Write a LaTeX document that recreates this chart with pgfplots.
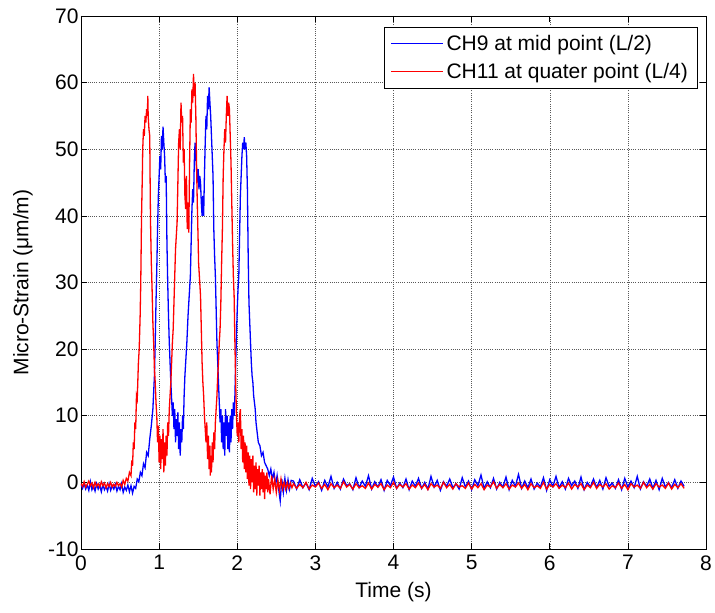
\documentclass[border=0pt]{standalone}
\usepackage{fontspec}
\setmainfont{Liberation Sans}
\usepackage{pgfplots}
\pgfplotsset{compat=1.18}
\definecolor{mblue}{rgb}{0,0,1}
\definecolor{mred}{rgb}{1,0,0}
\newcommand{\lbl}{\fontsize{21}{25}\selectfont}
\begin{document}
\begin{tikzpicture}
\path[use as bounding box] (-81pt,-64pt) rectangle (634pt,549pt);
\begin{axis}[
  at={(0,0)}, anchor=south west,
  scale only axis, width=625pt, height=533pt,
  xmin=0, xmax=8, ymin=-10, ymax=70,
  xtick={0,1,2,3,4,5,6,7,8}, xticklabels={0,1,2,3,4,5,6,7,8},
  ytick={-10,0,10,20,30,40,50,60,70}, yticklabels={-10,0,10,20,30,40,50,60,70},
  tick align=inside, xtick pos=both, ytick pos=both,
  major tick length=6pt,
  tick style={black, line width=0.6pt},
  axis line style={black, line width=0.8pt},
  grid=major,
  major grid style={black!65, line width=0.5pt, dash pattern=on 1pt off 1.2pt},
  ticklabel style={font=\lbl},
  xticklabel style={yshift=-3pt},
  yticklabel style={xshift=1pt},
  xlabel={Time (s)}, ylabel={Micro-Strain (μm/m)},
  label style={font=\lbl},
  xlabel style={at={(axis description cs:0.5,-0.081)}, anchor=center},
  ylabel style={at={(axis description cs:-0.0928,0.5)}, anchor=center},
  legend style={at={(0.9856,0.979)}, anchor=north east,
    font=\lbl, inner xsep=6pt, inner ysep=6pt, row sep=7pt,
    nodes={inner ysep=2pt, inner xsep=3pt}},
  legend cell align=left,
  every axis plot/.append style={line width=1.3pt},
]
\addplot[color=mblue, legend image code/.code={\draw[draw=mblue, color=mblue, line width=1pt] (0pt,0pt) -- (52pt,0pt);}] table {
t y
0.00 -0.3
0.02 -0.9
0.04 -0.2
0.06 -1.0
0.08 -0.4
0.10 -1.2
0.12 0.1
0.14 -1.1
0.16 -0.5
0.18 -1.3
0.20 -0.2
0.22 -1.0
0.24 -0.4
0.26 -1.4
0.28 -0.3
0.30 -1.1
0.32 -0.6
0.34 -1.3
0.36 -0.2
0.38 -1.2
0.40 -0.5
0.42 -1.0
0.44 -0.3
0.46 -1.3
0.48 -0.6
0.50 -1.1
0.52 -0.2
0.54 -1.5
0.56 -0.7
0.58 -1.2
0.60 -0.4
0.62 -1.4
0.64 -0.5
0.66 -1.6
0.68 -0.6
0.70 -0.9
0.72 0.5
0.74 0.1
0.76 1.5
0.78 1.0
0.80 2.8
0.82 2.2
0.84 4.5
0.86 4.0
0.88 6.5
0.90 8.5
0.92 11
0.94 16
0.95 21
0.96 27
0.97 32
0.98 38
0.99 43
1.00 46
1.01 49
1.02 47
1.03 52
1.04 50
1.05 53.4
1.06 51
1.07 49
1.08 45
1.09 46
1.10 36
1.11 30
1.12 25
1.13 21
1.14 18
1.15 15
1.16 12.5
1.17 10
1.18 12
1.19 8
1.20 11
1.21 6
1.22 9.5
1.23 7
1.24 10.5
1.25 5
1.26 9
1.27 4
1.28 8
1.29 6
1.30 10
1.31 8
1.32 13
1.33 16
1.34 18
1.355 21
1.37 25
1.385 28
1.40 31
1.41 36
1.42 41
1.43 44
1.44 42
1.45 48
1.46 51
1.47 49
1.48 47
1.49 45
1.50 47
1.51 44
1.52 46
1.53 45
1.54 42
1.55 40
1.56 43
1.57 40
1.58 46
1.59 51
1.60 55
1.61 53
1.62 58
1.63 56
1.64 59.3
1.65 57
1.66 55
1.67 52
1.68 49
1.69 46
1.70 38
1.71 34
1.72 31
1.73 26
1.74 21
1.75 18
1.76 15
1.77 12
1.78 9
1.79 11
1.80 6
1.81 10
1.82 5
1.83 9
1.84 4
1.85 11
1.86 7
1.87 10
1.88 5
1.89 9
1.90 4.5
1.91 10
1.92 6
1.93 11
1.94 8
1.95 12
1.96 10
1.97 13
1.98 18
1.99 22
2.00 26
2.01 29
2.02 31
2.03 37
2.04 43
2.05 46
2.06 49
2.07 51
2.08 50
2.09 51.8
2.10 50
2.11 51
2.12 49
2.13 44
2.14 34
2.15 27
2.16 24
2.17 21
2.18 18
2.19 16
2.20 15
2.21 13
2.22 12
2.23 11
2.24 9
2.25 8
2.27 6
2.29 5.5
2.31 4
2.33 4.5
2.35 3
2.37 2.5
2.39 2
2.41 1
2.43 2
2.45 0.5
2.47 1.5
2.49 -0.5
2.51 1
2.53 -1
2.55 -2.8
2.57 0.5
2.59 -1.5
2.61 0.6
2.63 -1.2
2.65 0.4
2.67 -1.0
2.69 0.3
2.72 0.2
2.76 -1.0
2.80 0.4
2.84 -0.8
2.88 -0.1
2.92 -1.1
2.96 0.6
3.00 -0.6
3.04 0.1
3.08 -1.2
3.12 0.3
3.16 -0.7
3.20 0.9
3.24 -0.9
3.28 0.0
3.32 -1.0
3.36 0.5
3.40 -0.5
3.44 -0.2
3.48 -1.1
3.52 0.7
3.56 -0.8
3.60 0.2
3.64 -0.6
3.68 1.0
3.72 -1.0
3.76 0.1
3.80 -0.7
3.84 0.4
3.88 -1.2
3.92 0.3
3.96 -0.5
4.00 0.8
4.04 -0.9
4.08 -0.1
4.12 -0.8
4.16 0.5
4.20 -1.1
4.24 0.2
4.28 -0.6
4.32 0.6
4.36 -0.9
4.40 0.0
4.44 -1.0
4.48 0.9
4.52 -0.7
4.56 0.3
4.60 -1.2
4.64 0.1
4.68 -0.6
4.72 0.5
4.76 -0.8
4.80 -0.2
4.84 -1.0
4.88 0.7
4.92 -0.7
4.96 0.2
5.00 -1.1
5.04 0.4
5.08 -0.5
5.12 1.1
5.16 -0.9
5.20 0.1
5.24 -0.8
5.28 0.6
5.32 -1.0
5.36 0.0
5.40 -0.7
5.44 0.8
5.48 -1.1
5.52 0.3
5.56 -0.6
5.60 1.2
5.64 -0.9
5.68 0.2
5.72 -0.8
5.76 0.5
5.80 -1.0
5.84 -0.1
5.88 -0.7
5.92 0.7
5.96 -1.2
6.00 0.4
6.04 -0.6
6.08 0.9
6.12 -0.8
6.16 0.1
6.20 -1.0
6.24 0.6
6.28 -0.5
6.32 0.2
6.36 -0.9
6.40 0.8
6.44 -1.1
6.48 0.0
6.52 -0.7
6.56 0.5
6.60 -0.8
6.64 0.3
6.68 -1.0
6.72 0.7
6.76 -0.6
6.80 -0.1
6.84 -0.9
6.88 0.4
6.92 -1.1
6.96 0.6
7.00 -0.7
7.04 0.2
7.08 -0.8
7.12 0.9
7.16 -1.0
7.20 0.1
7.24 -0.6
7.28 0.5
7.32 -0.9
7.36 0.3
7.40 -1.1
7.44 0.6
7.48 -0.7
7.52 0.0
7.56 -0.8
7.60 0.4
7.64 -0.9
7.68 0.2
7.72 -0.6
};
\addlegendentry{CH9 at mid point (L/2)}
\addplot[color=mred, legend image code/.code={\draw[draw=mred, color=mred, line width=1pt] (0pt,0pt) -- (52pt,0pt);}] table {
t y
0.00 -0.2
0.02 -0.6
0.04 0.1
0.06 -0.7
0.08 -0.3
0.10 0.2
0.12 -0.5
0.14 -0.1
0.16 -0.8
0.18 0.0
0.20 -0.6
0.22 -0.2
0.24 -0.7
0.26 0.1
0.28 -0.5
0.30 -0.1
0.32 -0.8
0.34 -0.2
0.36 -0.6
0.38 0.0
0.40 -0.7
0.42 -0.3
0.44 -0.6
0.46 0.0
0.48 -0.5
0.50 -0.2
0.52 -0.7
0.54 0.3
0.56 -0.3
0.58 0.6
0.60 0.2
0.62 1.5
0.64 1.0
0.65 3.3
0.66 2.5
0.67 6
0.68 5
0.69 9
0.70 8
0.71 13
0.72 12.5
0.735 18
0.745 20
0.757 25
0.765 30
0.77 35
0.775 40
0.785 46
0.79 50
0.80 53
0.81 52
0.82 55
0.83 54
0.84 56
0.85 55
0.855 58
0.86 55
0.87 53
0.88 52
0.885 45
0.89 39
0.90 33
0.91 29
0.92 24
0.93 21
0.94 17
0.95 15
0.96 12
0.97 10
0.98 6
0.99 8.5
1.00 3
1.01 7
1.02 2
1.03 6.5
1.04 3.5
1.05 8
1.06 1.5
1.07 6
1.08 2.5
1.09 7
1.10 4
1.11 9
1.12 7
1.13 11
1.14 13
1.15 15
1.16 18
1.17 21
1.18 23
1.19 27
1.20 31
1.21 35
1.22 37
1.23 39
1.24 45
1.25 51
1.26 53
1.27 50
1.28 57
1.29 54
1.30 55
1.31 48
1.32 50
1.33 43
1.34 41
1.35 46
1.36 38
1.37 42
1.38 37.5
1.39 48
1.40 56
1.41 54
1.42 59
1.43 57
1.44 61.3
1.45 58
1.46 60
1.47 55
1.475 51
1.48 47
1.49 41
1.50 36
1.505 33
1.52 30
1.53 28
1.54 23
1.55 18
1.56 15
1.57 13
1.58 10
1.59 8
1.60 6
1.61 9
1.62 3.5
1.63 7
1.64 2
1.65 5.5
1.655 1
1.66 4
1.67 1.5
1.68 6
1.69 3
1.70 7.5
1.71 5
1.72 9
1.73 11
1.74 13
1.75 16
1.76 18
1.77 21
1.78 23
1.79 27
1.80 33
1.81 38
1.82 46
1.83 50
1.84 53
1.85 51
1.86 55
1.87 58
1.88 55
1.89 57
1.90 56
1.91 52
1.92 48
1.93 42
1.94 36
1.95 31
1.96 28
1.97 21
1.98 15
1.99 10
2.00 7
2.01 9
2.02 6
2.03 10
2.04 11
2.05 5
2.06 8
2.07 3
2.08 7
2.09 2
2.10 6
2.11 1.5
2.12 5.5
2.13 0.5
2.14 4.5
2.15 -0.5
2.16 4
2.17 -1
2.18 3.5
2.19 0
2.20 4
2.21 -1.5
2.22 2.5
2.23 -1
2.24 3
2.25 -2
2.26 2
2.27 -0.5
2.28 2.5
2.29 -2
2.30 1.5
2.31 -1
2.32 2
2.33 -1.5
2.34 1.5
2.35 -2.5
2.36 1
2.37 -1
2.38 1.5
2.39 -1.5
2.40 0.5
2.42 -1.8
2.44 1
2.46 -1
2.48 0.5
2.50 -1.5
2.52 0.3
2.54 -1.2
2.56 0.5
2.58 -1
2.60 0
2.62 -1
2.64 0
2.66 -0.9
2.68 -0.1
2.70 -0.8
2.72 -0.2
2.76 -0.9
2.80 -0.3
2.84 -0.8
2.88 0.0
2.92 -1.0
2.96 -0.4
3.00 -0.7
3.04 -0.1
3.08 -0.9
3.12 -0.3
3.16 -1.1
3.20 -0.2
3.24 -0.8
3.28 -0.4
3.32 -0.9
3.36 0.1
3.40 -0.7
3.44 -0.3
3.48 -1.0
3.52 -0.2
3.56 -0.8
3.60 -0.5
3.64 -0.9
3.68 -0.1
3.72 -1.0
3.76 -0.3
3.80 -0.7
3.84 -0.2
3.88 -1.1
3.92 -0.4
3.96 -0.8
4.00 0.0
4.04 -0.9
4.08 -0.3
4.12 -0.7
4.16 -0.2
4.20 -1.0
4.24 -0.4
4.28 -0.8
4.32 -0.1
4.36 -0.9
4.40 -0.3
4.44 -1.1
4.48 -0.2
4.52 -0.7
4.56 -0.4
4.60 -0.9
4.64 0.0
4.68 -0.8
4.72 -0.3
4.76 -1.0
4.80 -0.2
4.84 -0.7
4.88 -0.5
4.92 -0.9
4.96 -0.1
5.00 -1.0
5.04 -0.3
5.08 -0.8
5.12 -0.2
5.16 -1.1
5.20 -0.4
5.24 -0.7
5.28 0.1
5.32 -0.9
5.36 -0.3
5.40 -0.8
5.44 -0.2
5.48 -1.0
5.52 -0.4
5.56 -0.7
5.60 -0.1
5.64 -0.9
5.68 -0.3
5.72 -1.1
5.76 -0.2
5.80 -0.8
5.84 -0.5
5.88 -0.9
5.92 0.0
5.96 -1.0
6.00 -0.3
6.04 -0.7
6.08 -0.2
6.12 -0.9
6.16 -0.4
6.20 -0.8
6.24 -0.1
6.28 -1.0
6.32 -0.3
6.36 -0.7
6.40 -0.2
6.44 -1.1
6.48 -0.4
6.52 -0.8
6.56 0.0
6.60 -0.9
6.64 -0.3
6.68 -0.7
6.72 -0.2
6.76 -1.0
6.80 -0.5
6.84 -0.8
6.88 -0.1
6.92 -0.9
6.96 -0.3
7.00 -1.1
7.04 -0.2
7.08 -0.7
7.12 -0.4
7.16 -0.9
7.20 0.0
7.24 -0.8
7.28 -0.3
7.32 -1.0
7.36 -0.2
7.40 -0.7
7.44 -0.4
7.48 -0.9
7.52 -0.1
7.56 -1.0
7.60 -0.3
7.64 -0.8
7.68 -0.2
7.72 -0.9
};
\addlegendentry{CH11 at quater point (L/4)}
\end{axis}
\end{tikzpicture}
\end{document}
